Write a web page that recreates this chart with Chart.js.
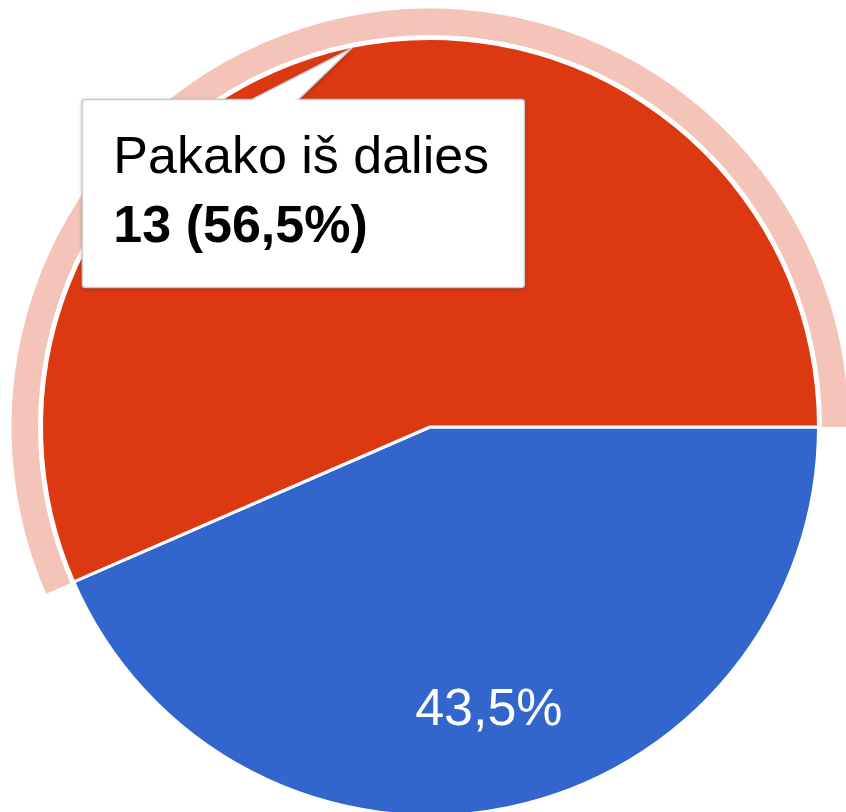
<!DOCTYPE html>
<html>
<head>
<meta charset="utf-8">
<script src="https://cdn.jsdelivr.net/npm/chart.js@4/dist/chart.umd.min.js"></script>
<style>
  html, body { margin: 0; padding: 0; background: #fff; overflow: hidden; width: 846px; height: 812px; }
  #wrap { position: absolute; left: 0; top: 0; width: 860px; height: 854px; }
</style>
</head>
<body>
<div id="wrap"><canvas id="c" width="860" height="854"></canvas></div>
<script>
const categories = ['Pakako', 'Pakako iš dalies'];
const counts = [10, 13];
const sliceColors = ['#3366cc', '#dc3912'];
const haloColors = ['#c2d1f0', '#f4c4b8'];
const selectedIndex = 1;

const total = counts.reduce((a, b) => a + b, 0);
const pctText = v => (v / total * 100).toFixed(1).replace('.', ',') + '%';
const FONT = '"Liberation Sans", Arial, sans-serif';

const haloPlugin = {
  id: 'halo',
  beforeDatasetsDraw(chart) {
    const arc = chart.getDatasetMeta(0).data[selectedIndex];
    const ctx = chart.ctx;
    const r0 = arc.outerRadius + 3.5, r1 = arc.outerRadius + 30;
    ctx.save();
    ctx.beginPath();
    ctx.arc(arc.x, arc.y, r1, arc.startAngle, arc.endAngle);
    ctx.arc(arc.x, arc.y, r0, arc.endAngle, arc.startAngle, true);
    ctx.closePath();
    ctx.fillStyle = haloColors[selectedIndex];
    ctx.fill();
    ctx.restore();
  }
};

const labelPlugin = {
  id: 'sliceLabels',
  afterDatasetsDraw(chart) {
    const ctx = chart.ctx;
    chart.getDatasetMeta(0).data.forEach((arc, i) => {
      const mid = (arc.startAngle + arc.endAngle) / 2;
      const r = arc.outerRadius * 0.745;
      ctx.save();
      ctx.fillStyle = '#ffffff';
      ctx.font = '52px ' + FONT;
      ctx.textAlign = 'center';
      ctx.textBaseline = 'middle';
      ctx.fillText(pctText(counts[i]), arc.x + Math.cos(mid) * r, arc.y + Math.sin(mid) * r);
      ctx.restore();
    });
  }
};

const tooltipPlugin = {
  id: 'fixedTooltip',
  afterDraw(chart) {
    const arc = chart.getDatasetMeta(0).data[selectedIndex];
    const ctx = chart.ctx;
    const mid = (arc.startAngle + arc.endAngle) / 2;
    const R = arc.outerRadius - 2;
    const tx = arc.x + Math.cos(mid) * R, ty = arc.y + Math.sin(mid) * R;
    const left = tx - 269, top = ty + 51, w = 442, h = 188, rr = 3;
    ctx.save();
    ctx.beginPath();
    ctx.moveTo(left + rr, top);
    ctx.lineTo(tx - 100, top);
    ctx.lineTo(tx, ty);
    ctx.lineTo(tx - 53, top);
    ctx.arcTo(left + w, top, left + w, top + h, rr);
    ctx.arcTo(left + w, top + h, left, top + h, rr);
    ctx.arcTo(left, top + h, left, top, rr);
    ctx.arcTo(left, top, left + w, top, rr);
    ctx.closePath();
    ctx.shadowColor = 'rgba(0,0,0,0.35)';
    ctx.shadowBlur = 4;
    ctx.shadowOffsetY = 1;
    ctx.fillStyle = '#ffffff';
    ctx.fill();
    ctx.shadowColor = 'transparent';
    ctx.lineWidth = 1.5;
    ctx.strokeStyle = '#cccccc';
    ctx.stroke();
    ctx.fillStyle = '#000000';
    ctx.textAlign = 'left';
    ctx.textBaseline = 'alphabetic';
    ctx.font = '52px ' + FONT;
    ctx.fillText(categories[selectedIndex], left + 31, top + 73);
    ctx.font = 'bold 52px ' + FONT;
    ctx.fillText(counts[selectedIndex] + ' (' + pctText(counts[selectedIndex]) + ')', left + 31, top + 142);
    ctx.restore();
  }
};

new Chart(document.getElementById('c'), {
  type: 'pie',
  data: {
    labels: categories,
    datasets: [{
      data: counts,
      backgroundColor: sliceColors,
      borderColor: '#ffffff',
      borderWidth: 3,
      hoverOffset: 0,
      offset: 0
    }]
  },
  options: {
    responsive: false,
    animation: false,
    events: [],
    rotation: 90,
    layout: { padding: { left: 40, right: 40, top: 37, bottom: 37 } },
    plugins: { legend: { display: false }, tooltip: { enabled: false } }
  },
  plugins: [haloPlugin, labelPlugin, tooltipPlugin]
});
</script>
</body>
</html>
